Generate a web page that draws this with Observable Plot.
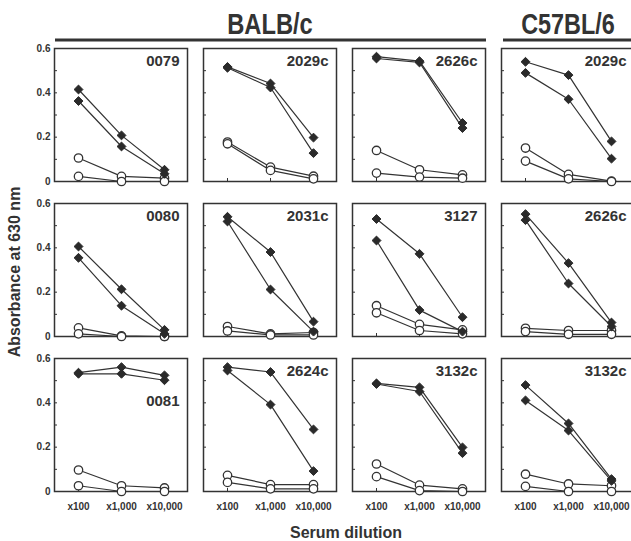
<!DOCTYPE html>
<html><head><meta charset="utf-8">
<script src="https://cdn.jsdelivr.net/npm/d3@7"></script>
<script src="https://cdn.jsdelivr.net/npm/@observablehq/plot@0.6"></script>
<style>
html,body{margin:0;padding:0;background:#fff;overflow:hidden;width:631px;height:541px;}
#chart{position:relative;width:631px;height:541px;overflow:hidden;}
</style></head><body><div id="chart"></div>
<script>
const dilutions = ["x100", "x1,000", "x10,000"];
const groupTitles = ["BALB/c", "C57BL/6"];
const panelLabels = ["0079", "2029c", "2626c", "2029c", "0080", "2031c", "3127", "2626c", "0081", "2624c", "3132c", "3132c"];
const yTicks = [0, 0.2, 0.4, 0.6];
const yMinorTicks = [0.1, 0.2, 0.3, 0.4, 0.5];
const yLabel = "Absorbance at 630 nm";
const xLabel = "Serum dilution";

// filled diamonds (two series per panel)
const positiveA = [
  [0.415, 0.208, 0.053], [0.517, 0.442, 0.198], [0.563, 0.543, 0.264], [0.540, 0.480, 0.181],
  [0.406, 0.213, 0.030], [0.540, 0.381, 0.067], [0.530, 0.373, 0.087], [0.552, 0.331, 0.063],
  [0.536, 0.561, 0.524], [0.561, 0.539, 0.280], [0.488, 0.470, 0.199], [0.480, 0.307, 0.056]
];
const positiveB = [
  [0.363, 0.158, 0.035], [0.513, 0.424, 0.128], [0.555, 0.537, 0.241], [0.490, 0.371, 0.103],
  [0.355, 0.139, 0.012], [0.519, 0.212, 0.022], [0.433, 0.119, 0.022], [0.525, 0.239, 0.045],
  [0.531, 0.531, 0.502], [0.546, 0.392, 0.092], [0.485, 0.451, 0.173], [0.411, 0.275, 0.048]
];
// open circles (two series per panel)
const controlA = [
  [0.106, 0.023, 0.015], [0.178, 0.065, 0.024], [0.140, 0.053, 0.030], [0.151, 0.032, 0.002],
  [0.039, 0.003, 0.000], [0.045, 0.012, 0.018], [0.139, 0.055, 0.030], [0.037, 0.027, 0.027],
  [0.097, 0.026, 0.016], [0.073, 0.031, 0.031], [0.124, 0.029, 0.012], [0.078, 0.034, 0.026]
];
const controlB = [
  [0.023, 0.000, 0.000], [0.170, 0.050, 0.012], [0.038, 0.020, 0.015], [0.092, 0.012, 0.000],
  [0.012, 0.000, 0.000], [0.025, 0.007, 0.007], [0.107, 0.027, 0.012], [0.022, 0.010, 0.010],
  [0.026, 0.000, 0.000], [0.041, 0.012, 0.012], [0.067, 0.004, 0.000], [0.023, 0.000, 0.000]
];

function build(seriesList) {
  const out = [];
  seriesList.forEach(([name, arr]) => {
    arr.forEach((vals, i) => {
      vals.forEach((v, j) => out.push({series: name + i, col: i % 4, row: Math.floor(i / 4), dilution: dilutions[j], value: v}));
    });
  });
  return out;
}
const positives = build([["pA", positiveA], ["pB", positiveB]]);
const controls = build([["cA", controlA], ["cB", controlB]]);
const panelIdx = panelLabels.map((d, i) => i);

const font = "'Liberation Sans', Arial, sans-serif";
const ink = "#333";

const chart = Plot.plot({
  width: 634, height: 541,
  marginLeft: 54, marginRight: 0, marginTop: 47, marginBottom: 48,
  style: {fontFamily: font, color: ink, background: "#fff", maxWidth: "none", overflow: "visible"},
  fx: {domain: [0, 1, 2, 3], axis: null, paddingInner: 0.1074, paddingOuter: 0},
  fy: {domain: [0, 1, 2], axis: null, paddingInner: 0.141, paddingOuter: 0},
  x: {type: "point", domain: dilutions, padding: 0.53},
  y: {domain: [0, 0.6]},
  marks: [
    Plot.frame({stroke: ink, strokeWidth: 1.5}),
    Plot.axisY({ticks: yMinorTicks, tickSize: -3, tickFormat: () => "", facetAnchor: null, label: null, stroke: ink}),
    Plot.axisX({tickSize: -3, tickFormat: () => "", facetAnchor: null, label: null, stroke: ink}),
    Plot.axisY({ticks: yTicks, tickSize: 0, tickPadding: 4, tickFormat: d => d === 0 ? "0" : d.toFixed(1), fontSize: 10, fontWeight: "bold", label: null, fill: ink}),
    Plot.axisX({tickSize: 0, tickPadding: 11, fontSize: 10, fontWeight: "bold", label: null, fill: ink}),
    Plot.line(controls, {x: "dilution", y: "value", z: "series", fx: "col", fy: "row", stroke: ink, strokeWidth: 1.2}),
    Plot.dot(controls, {x: "dilution", y: "value", fx: "col", fy: "row", r: 4.2, fill: "#fff", stroke: ink, strokeWidth: 1.3}),
    Plot.line(positives, {x: "dilution", y: "value", z: "series", fx: "col", fy: "row", stroke: ink, strokeWidth: 1.2}),
    Plot.dot(positives, {x: "dilution", y: "value", fx: "col", fy: "row", symbol: "diamond2", r: 4, fill: "#2a2a2a", stroke: "#2a2a2a", strokeWidth: 1}),
    Plot.text(panelIdx.filter(i => panelLabels[i] !== "0081"), {fx: i => i % 4, fy: i => Math.floor(i / 4), text: i => panelLabels[i], frameAnchor: "top-right", lineAnchor: "top", dx: -8, dy: 7, fontSize: 15, fontWeight: "bold", fill: ink}),
    Plot.text(panelIdx.filter(i => panelLabels[i] === "0081"), {fx: i => i % 4, fy: i => Math.floor(i / 4), text: i => panelLabels[i], frameAnchor: "right", lineAnchor: "middle", dx: -8, dy: -24, fontSize: 15, fontWeight: "bold", fill: ink})
  ]
});
document.getElementById("chart").appendChild(chart);

const svg = d3.select(chart);
const ann = svg.append("g").attr("font-family", font).attr("font-weight", "bold").attr("fill", ink);
ann.append("text").attr("transform", "translate(270,34) scale(0.79,1)").attr("text-anchor", "middle").attr("font-size", 30).text(groupTitles[0]);
ann.append("text").attr("transform", "translate(568,34) scale(0.78,1)").attr("text-anchor", "middle").attr("font-size", 30).text(groupTitles[1]);
ann.append("line").attr("x1", 55).attr("x2", 486).attr("y1", 40).attr("y2", 40).attr("stroke", ink).attr("stroke-width", 3);
ann.append("line").attr("x1", 503).attr("x2", 634).attr("y1", 40).attr("y2", 40).attr("stroke", ink).attr("stroke-width", 3);
ann.append("text").attr("transform", "translate(20,272) rotate(-90)").attr("text-anchor", "middle").attr("font-size", 16).text(yLabel);
ann.append("text").attr("x", 346).attr("y", 538).attr("text-anchor", "middle").attr("font-size", 16).text(xLabel);
</script></body></html>
